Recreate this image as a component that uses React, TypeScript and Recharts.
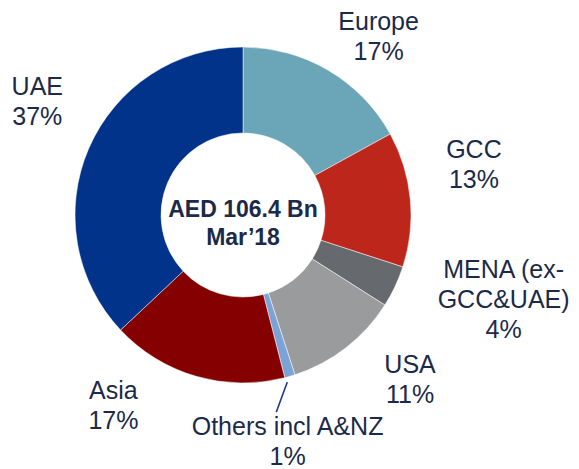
import { PieChart, Pie, Cell } from "recharts";

const REGIONS = [
  "Europe",
  "GCC",
  "MENA (ex-\nGCC&UAE)",
  "USA",
  "Others incl A&NZ",
  "Asia",
  "UAE",
];
const SHARES = [17, 13, 4, 11, 1, 17, 37];
const COLORS = [
  "#6aa5b8",
  "#bd261b",
  "#66696e",
  "#9a9b9d",
  "#7ba3d6",
  "#850000",
  "#003389",
];
const CENTER_LINES = ["AED 106.4 Bn", "Mar\u201918"];

const data = REGIONS.map((name, i) => ({ name, value: SHARES[i] }));

const TEXT = "#1b2a48";
const FONT = "'Liberation Sans', Arial, sans-serif";
const RADIAN = Math.PI / 180;
const CX = 243;
const CY = 215;
const LABEL_R = 235;
const LINE_H = 30;

// nudges from the radial anchor, first baseline
const NUDGE: [number, number][] = [
  [16, 17],
  [-3, -35],
  [48, -37],
  [23, -28],
  [-21, -6],
  [-64, -42],
  [10, -27],
];

function renderLabel(props: any) {
  const { cx, cy, midAngle, outerRadius, index } = props;
  const a = -midAngle * RADIAN;
  const x = cx + LABEL_R * Math.cos(a) + NUDGE[index][0];
  const y = cy + LABEL_R * Math.sin(a) + NUDGE[index][1];
  const lines = [...REGIONS[index].split("\n"), `${SHARES[index]}%`];
  const lx = cx + (outerRadius + 5) * Math.cos(a);
  const ly = cy + (outerRadius + 5) * Math.sin(a);
  return (
    <g key={`lbl-${index}`}>
      {index === 4 && (
        <line
          x1={lx - 4}
          y1={ly + 1}
          x2={lx - 15}
          y2={ly + 31}
          stroke="#1d3a8a"
          strokeWidth={1.5}
        />
      )}
      <text
        x={x}
        y={y}
        textAnchor="middle"
        fill={TEXT}
        fontSize={25}
        fontFamily={FONT}
      >
        {lines.map((l, i) => (
          <tspan key={i} x={x} dy={i === 0 ? 0 : LINE_H}>
            {l}
          </tspan>
        ))}
      </text>
    </g>
  );
}

export default function App() {
  return (
    <div
      style={{
        position: "absolute",
        left: 0,
        top: 0,
        width: 579,
        height: 469,
        background: "#fff",
      }}
    >
      <PieChart
        width={579}
        height={469}
        margin={{ top: 0, right: 0, bottom: 0, left: 0 }}
      >
        <Pie
          data={data}
          dataKey="value"
          nameKey="name"
          cx={CX}
          cy={CY}
          innerRadius={82}
          outerRadius={168}
          startAngle={90}
          endAngle={-270}
          stroke="#ffffff"
          strokeWidth={0.5}
          label={renderLabel}
          labelLine={false}
          isAnimationActive={false}
        >
          {data.map((d, i) => (
            <Cell key={d.name} fill={COLORS[i]} />
          ))}
        </Pie>
        <text
          x={CX}
          y={CY + 2}
          textAnchor="middle"
          fill={TEXT}
          fontSize={23}
          fontWeight="bold"
          fontFamily={FONT}
        >
          {CENTER_LINES.map((l, i) => (
            <tspan key={i} x={CX} dy={i === 0 ? 0 : 28}>
              {l}
            </tspan>
          ))}
        </text>
      </PieChart>
    </div>
  );
}
